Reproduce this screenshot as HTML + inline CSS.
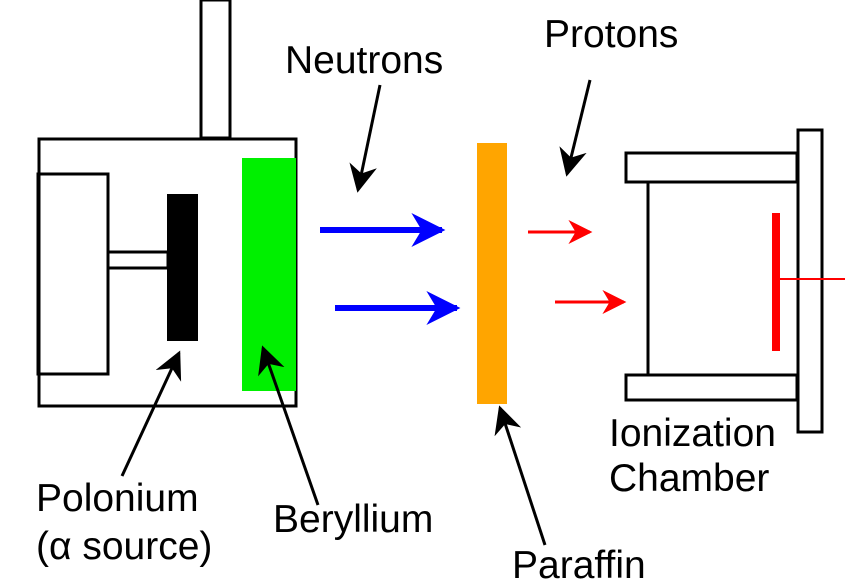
<!DOCTYPE html>
<html><head><meta charset="utf-8"><style>
html,body{margin:0;padding:0;background:#fff;}
svg{display:block;}
text{font-family:"Liberation Sans",sans-serif;font-size:39px;fill:#000;}
</style></head><body>
<svg width="866" height="582" viewBox="0 0 866 582">
<defs>
<marker id="ab" viewBox="0 0 10 10" refX="9" refY="5" markerUnits="userSpaceOnUse" markerWidth="36" markerHeight="34" orient="auto"><path d="M0,0 L10,5 L0,10 L3,5 z" fill="#0000ff"/></marker>
<marker id="ar" viewBox="0 0 10 10" refX="9" refY="5" markerUnits="userSpaceOnUse" markerWidth="24" markerHeight="24" orient="auto"><path d="M0,0 L10,5 L0,10 L3,5 z" fill="#ff0000"/></marker>
<marker id="ak" viewBox="0 0 10 10" refX="9" refY="5" markerUnits="userSpaceOnUse" markerWidth="28" markerHeight="28" orient="auto"><path d="M0,0 L10,5 L0,10 L3,5 z" fill="#000"/></marker>
</defs>
<g fill="none" stroke="#000" stroke-width="3">
<rect x="201" y="0" width="29" height="138" fill="#fff"/>
<rect x="39" y="139" width="257" height="267"/>
<rect x="38" y="174" width="70" height="200"/>
<rect x="108" y="252" width="60" height="16"/>
</g>
<rect x="167" y="194" width="31" height="147" fill="#000"/>
<rect x="242" y="158" width="54" height="233" fill="#00f000"/>
<line x1="320" y1="230" x2="442" y2="230" stroke="#0000ff" stroke-width="6" marker-end="url(#ab)"/>
<line x1="335" y1="308" x2="457" y2="308" stroke="#0000ff" stroke-width="6" marker-end="url(#ab)"/>
<rect x="477" y="143" width="30" height="261" fill="#ffa500"/>
<line x1="528" y1="232" x2="590" y2="232" stroke="#ff0000" stroke-width="3" marker-end="url(#ar)"/>
<line x1="555" y1="302" x2="624" y2="302" stroke="#ff0000" stroke-width="3" marker-end="url(#ar)"/>
<g fill="none" stroke="#000" stroke-width="3">
<rect x="626" y="153" width="171" height="29"/>
<rect x="626" y="375" width="171" height="25"/>
<line x1="648" y1="182" x2="648" y2="375"/>
<rect x="798" y="130" width="24" height="302"/>
</g>
<rect x="772" y="213" width="8" height="138" fill="#ff0000"/>
<line x1="780" y1="279" x2="845" y2="279" stroke="#ff0000" stroke-width="2"/>
<g stroke="#000" stroke-width="3" marker-end="url(#ak)">
<line x1="380" y1="85" x2="358" y2="190"/>
<line x1="590" y1="80" x2="567" y2="174"/>
<line x1="122" y1="476" x2="179" y2="353"/>
<line x1="318" y1="505" x2="263" y2="348"/>
<line x1="545" y1="545" x2="500" y2="408"/>
</g>
<text x="285" y="73">Neutrons</text>
<text x="544" y="47">Protons</text>
<text x="609" y="446">Ionization</text>
<text x="609" y="491">Chamber</text>
<text x="36" y="511">Polonium</text>
<text x="36" y="559">(α source)</text>
<text x="273" y="532">Beryllium</text>
<text x="512" y="578">Paraffin</text>
</svg>
</body></html>
